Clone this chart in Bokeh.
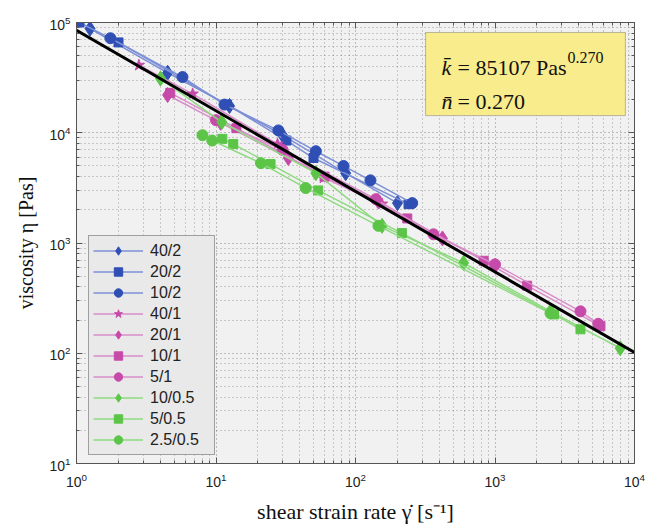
from bokeh.plotting import figure
from bokeh.models import (FixedTicker, Legend, LegendItem, BoxAnnotation, Label,
                          Range1d, LogAxis, CustomJSTickFormatter)
from bokeh.embed import file_html
from bokeh.resources import INLINE

# ---------------- data ----------------
series_names = ["40/2", "20/2", "10/2", "40/1", "20/1", "10/1", "5/1", "10/0.5", "5/0.5", "2.5/0.5"]

rate_40_2 = [1.25, 4.5, 12.5, 30, 85, 200]
visc_40_2 = [88000, 35000, 17500, 9500, 4300, 2300]
rate_20_2 = [1.05, 2.0, 12.0, 32, 50, 240]
visc_20_2 = [100000, 66000, 18000, 8500, 5900, 2250]
rate_10_2 = [1.75, 5.75, 11.5, 28, 52, 82, 128, 255]
visc_10_2 = [72000, 32000, 18000, 10500, 6800, 5000, 3700, 2300]

rate_40_1 = [2.8, 6.8, 27.6, 59, 155]
visc_40_1 = [41000, 22500, 7900, 3900, 2260]
rate_20_1 = [4.5, 10.8, 33, 145, 420, 1000]
visc_20_1 = [22000, 12300, 5900, 2400, 1100, 620]
rate_10_1 = [4.7, 14, 60, 235, 830, 1700, 5700]
visc_10_1 = [23000, 11000, 4000, 1670, 690, 410, 176]
rate_5_1 = [10, 30, 140, 362, 1000, 4100, 5500]
visc_5_1 = [13000, 7000, 2500, 1200, 640, 240, 185]

rate_10_05 = [4.0, 11, 52, 155, 595, 2500, 7900]
visc_10_05 = [31000, 12500, 4300, 1430, 660, 240, 111]
rate_5_05 = [11.1, 13.3, 24.6, 54, 215, 2650, 4100]
visc_5_05 = [8800, 7900, 5200, 3000, 1230, 225, 165]
rate_25_05 = [8.0, 9.4, 21, 44, 146, 2500]
visc_25_05 = [9500, 8500, 5300, 3150, 1430, 230]

fit_rate = [1, 10000]
fit_visc = [85107, 101.6]

x_ticks = [1, 10, 100, 1000, 10000]
y_ticks = [10, 100, 1000, 10000, 100000]

k_text = "85107"
n_text = "0.270"

# ---------------- styling ----------------
BLUE, BLUE_L = "#2f4fb5", "#7d90d6"
PINK, PINK_L = "#c64aa9", "#d98cc9"
GREEN, GREEN_L = "#5cc548", "#8fda80"

series = [
    ("40/2", rate_40_2, visc_40_2, BLUE, BLUE_L, "diamond", 15),
    ("20/2", rate_20_2, visc_20_2, BLUE, BLUE_L, "square", 9),
    ("10/2", rate_10_2, visc_10_2, BLUE, BLUE_L, "circle", 11),
    ("40/1", rate_40_1, visc_40_1, PINK, PINK_L, "star", 12),
    ("20/1", rate_20_1, visc_20_1, PINK, PINK_L, "diamond", 15),
    ("10/1", rate_10_1, visc_10_1, PINK, PINK_L, "square", 9),
    ("5/1", rate_5_1, visc_5_1, PINK, PINK_L, "circle", 11),
    ("10/0.5", rate_10_05, visc_10_05, GREEN, GREEN_L, "diamond", 15),
    ("5/0.5", rate_5_05, visc_5_05, GREEN, GREEN_L, "square", 9),
    ("2.5/0.5", rate_25_05, visc_25_05, GREEN, GREEN_L, "circle", 11),
]

p = figure(width=647, height=526, x_axis_type="log", y_axis_type="log",
           x_range=Range1d(1, 1e4), y_range=Range1d(10, 1e5),
           output_backend="svg", toolbar_location=None,
           min_border_left=76, min_border_right=13, min_border_top=22, min_border_bottom=63,
           background_fill_color="#f1f1f1", border_fill_color="white")

bottom_ax = p.below[0]
left_ax = p.left[0]

x_minor = [m * d for d in [1, 10, 100, 1000] for m in range(2, 10)]
y_minor = [m * d for d in [10, 100, 1000, 10000] for m in range(2, 10)]

top_ax = LogAxis(formatter=CustomJSTickFormatter(code="return ''"))
right_ax = LogAxis(formatter=CustomJSTickFormatter(code="return ''"))
p.add_layout(top_ax, "above")
p.add_layout(right_ax, "right")

for ax, t, mt in ((bottom_ax, x_ticks, x_minor), (top_ax, x_ticks, x_minor),
                  (left_ax, y_ticks, y_minor), (right_ax, y_ticks, y_minor)):
    ax.ticker = FixedTicker(ticks=t, minor_ticks=mt)
    ax.major_tick_in = 6
    ax.major_tick_out = 0
    ax.minor_tick_in = 3
    ax.minor_tick_out = 0
    ax.axis_line_color = "#555555"
    ax.major_tick_line_color = "#555555"
    ax.minor_tick_line_color = "#555555"
    ax.major_label_text_font = "Liberation Sans"
    ax.major_label_text_font_size = "14px"
    ax.major_label_text_color = "#222222"
    ax.axis_label_text_font = "Liberation Serif"
    ax.axis_label_text_font_style = "normal"
    ax.axis_label_text_color = "#111111"

for ax in (top_ax, right_ax):
    ax.major_label_standoff = 0

bottom_ax.axis_label = "shear strain rate \u03b3\u0307 [s\u207b\u00b9]"
left_ax.axis_label = "viscosity \u03b7 [Pas]"
bottom_ax.axis_label_text_font_size = "22px"
left_ax.axis_label_text_font_size = "20px"
bottom_ax.major_label_standoff = 9
left_ax.major_label_standoff = 6
bottom_ax.axis_label_standoff = 9
left_ax.axis_label_standoff = 9

for g in (p.xgrid, p.ygrid):
    g.grid_line_color = "#555555"
    g.grid_line_alpha = 0.7
    g.grid_line_dash = "1 3"
    g.minor_grid_line_color = "#555555"
    g.minor_grid_line_alpha = 0.55
    g.minor_grid_line_dash = "1 3"

p.outline_line_color = "#555555"
p.outline_line_width = 1

items = []
for name, xs, ys, col, lcol, mk, sz in series:
    ln = p.line(xs, ys, line_color=lcol, line_width=1.5)
    sc = p.scatter(xs, ys, marker=mk, size=sz, fill_color=col, line_color=col)
    items.append(LegendItem(label=name, renderers=[ln, sc]))

p.line(fit_rate, fit_visc, line_color="black", line_width=3)

legend = Legend(items=items, location=(12, 8), orientation="vertical",
                background_fill_color="#e9e9e9", background_fill_alpha=1,
                border_line_color="#555555", border_line_width=1,
                label_text_font="Liberation Sans", label_text_font_size="16px",
                label_text_color="#222222",
                glyph_width=50, glyph_height=21, label_height=21, label_width=60,
                spacing=0, padding=4, margin=0, label_standoff=7)
p.add_layout(legend, "center")

# annotation box
box = BoxAnnotation(left=318, right=8600, top=81200, bottom=14300,
                    fill_color="#f8ec8c", fill_alpha=1,
                    line_color="#333333", line_width=1, level="overlay")
p.add_layout(box)

def lab(x, y, text, size, style="normal", xoff=0):
    p.add_layout(Label(x=x, y=y, text=text, x_offset=xoff,
                       text_font="Liberation Serif", text_font_size=size,
                       text_font_style=style, text_color="#111111",
                       text_baseline="alphabetic", level="overlay"))

lab(414, 39100, "k\u0304", "22px", "italic")
lab(414, 39100, "= " + k_text + " Pas", "22px", xoff=16)
lab(414, 48500, n_text, "16px", xoff=126)
lab(414, 19200, "n\u0304", "22px", "italic")
lab(414, 19200, "= " + n_text, "22px", xoff=16)

open("out.html", "w").write(file_html(p, INLINE))
